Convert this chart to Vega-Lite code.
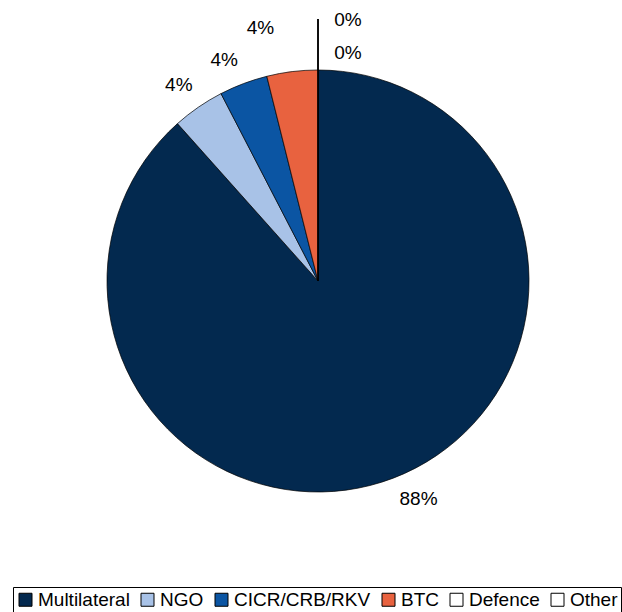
{
  "$schema": "https://vega.github.io/schema/vega-lite/v6.json",
  "width": 610,
  "height": 562,
  "padding": {"left": 12, "top": 0, "right": 0, "bottom": 0},
  "background": "white",
  "config": {"view": {"stroke": null}, "font": "Liberation Sans"},
  "data": {
    "values": [
      {"i": 1, "cat": "Multilateral", "share": 0.884},
      {"i": 2, "cat": "NGO", "share": 0.040},
      {"i": 3, "cat": "CICR/CRB/RKV", "share": 0.037},
      {"i": 4, "cat": "BTC", "share": 0.039},
      {"i": 5, "cat": "Defence", "share": 0},
      {"i": 6, "cat": "Other", "share": 0}
    ]
  },
  "encoding": {
    "theta": {"field": "share", "type": "quantitative", "stack": true},
    "order": {"field": "i", "type": "quantitative"}
  },
  "layer": [
    {
      "mark": {"type": "arc", "outerRadius": 211, "stroke": "#000000", "strokeWidth": 0.7},
      "encoding": {
        "color": {
          "field": "cat",
          "type": "nominal",
          "scale": {
            "domain": ["Multilateral", "NGO", "CICR/CRB/RKV", "BTC", "Defence", "Other"],
            "range": ["#03294F", "#A8C2E7", "#0B55A3", "#E8623F", "#FFFFFF", "#FFFFFF"]
          },
          "legend": {
            "title": null,
            "orient": "bottom",
            "direction": "horizontal",
            "offset": 25,
            "symbolType": "square",
            "symbolSize": 169,
            "symbolStrokeColor": "#000000",
            "symbolStrokeWidth": 1,
            "labelFontSize": 19,
            "labelFont": "Liberation Sans",
            "labelColor": "#000000",
            "labelOffset": 3,
            "columnPadding": 8,
            "strokeColor": "#000000",
            "padding": 3
          }
        }
      }
    },
    {
      "mark": {"type": "arc", "innerRadius": 211, "outerRadius": 262, "filled": false, "stroke": "#000000", "strokeWidth": 1},
      "encoding": {
        "strokeOpacity": {"condition": {"test": "datum.share === 0", "value": 1}, "value": 0}
      }
    },
    {
      "mark": {"type": "text", "radius": 240, "fontSize": 19, "dx": 15, "dy": -6, "color": "#000000"},
      "encoding": {
        "text": {"condition": {"test": "datum.cat === 'Multilateral'", "field": "share", "type": "quantitative", "format": ".0%"}, "value": ""}
      }
    },
    {
      "mark": {"type": "text", "radius": 240, "fontSize": 19, "dx": -3, "dy": 2, "color": "#000000"},
      "encoding": {
        "text": {"condition": {"test": "datum.cat === 'NGO'", "field": "share", "type": "quantitative", "format": ".0%"}, "value": ""}
      }
    },
    {
      "mark": {"type": "text", "radius": 240, "fontSize": 19, "dx": -9, "dy": 4, "color": "#000000"},
      "encoding": {
        "text": {"condition": {"test": "datum.cat === 'CICR/CRB/RKV'", "field": "share", "type": "quantitative", "format": ".0%"}, "value": ""}
      }
    },
    {
      "mark": {"type": "text", "radius": 258, "fontSize": 19, "dx": -26, "dy": 3, "color": "#000000"},
      "encoding": {
        "text": {"condition": {"test": "datum.cat === 'BTC'", "field": "share", "type": "quantitative", "format": ".0%"}, "value": ""}
      }
    },
    {
      "mark": {"type": "text", "radius": 261, "fontSize": 19, "dx": 30, "color": "#000000"},
      "encoding": {
        "text": {"condition": {"test": "datum.cat === 'Defence'", "field": "share", "type": "quantitative", "format": ".0%"}, "value": ""}
      }
    },
    {
      "mark": {"type": "text", "radius": 228, "fontSize": 19, "dx": 30, "color": "#000000"},
      "encoding": {
        "text": {"condition": {"test": "datum.cat === 'Other'", "field": "share", "type": "quantitative", "format": ".0%"}, "value": ""}
      }
    }
  ]
}
